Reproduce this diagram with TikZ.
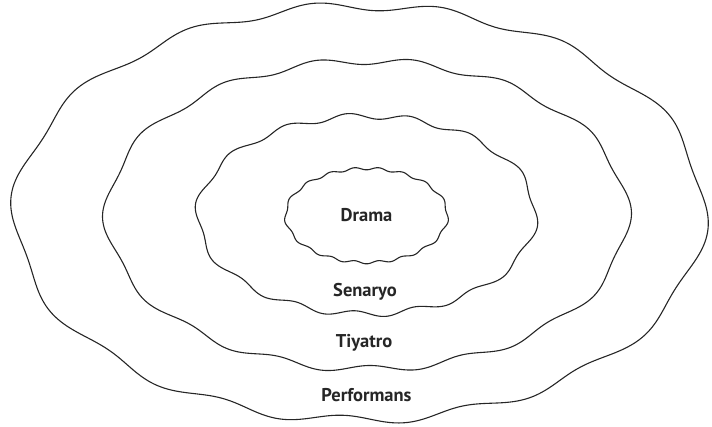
\documentclass[tikz,border=0pt]{standalone}
\usepackage{fontspec}
\setmainfont{PT Sans}
\begin{document}
\begin{tikzpicture}[x=1pt,y=-1pt,
  wave/.style={draw=black!85,line width=1.1pt,line join=round},
  lbl/.style={font=\bfseries\fontsize{18.5}{20}\selectfont,text=black!85,inner sep=0pt}]
\useasboundingbox (0,0) rectangle (712,426);
% outer
\draw[wave] plot[domain=0:360,samples=721,variable=\t]
  ({359.5+(345+4.5*sin(14*(\t-7.16*sin(2*\t))+40))*cos(\t)},{213+(207+4.5*sin(14*(\t-7.16*sin(2*\t))+40))*sin(\t)}) -- cycle;
% second
\draw[wave] plot[domain=0:360,samples=721,variable=\t]
  ({367+(261+3.5*sin(14*(\t-7.16*sin(2*\t))+100))*cos(\t)},{215+(154+3.5*sin(14*(\t-7.16*sin(2*\t))+100))*sin(\t)}) -- cycle;
% third
\draw[wave] plot[domain=0:360,samples=721,variable=\t]
  ({366.5+(169+3*sin(14*(\t-7.16*sin(2*\t))+20))*cos(\t)},{215+(99+3*sin(14*(\t-7.16*sin(2*\t))+20))*sin(\t)}) -- cycle;
% inner
\draw[wave] plot[domain=0:360,samples=721,variable=\t]
  ({366.5+(81+1.3*sin(17*(\t-7.16*sin(2*\t))))*cos(\t)},{215.5+(47+1.3*sin(17*(\t-7.16*sin(2*\t))))*sin(\t)}) -- cycle;
\node[lbl] (drama) at (366.5,215) {Drama};
\node[lbl] (senaryo) at (365,292) {Senaryo};
\node[lbl] (tiyatro) at (364,343) {Tiyatro};
\node[lbl] (performans) at (366.5,395.5) {Performans};
\end{tikzpicture}
\end{document}
